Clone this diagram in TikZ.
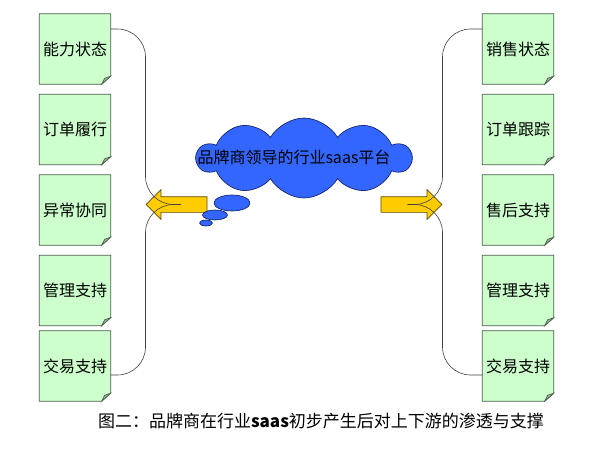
\documentclass[tikz,border=0pt]{standalone}
\usepackage{fontspec}
\setmainfont{Noto Sans CJK SC}
\usepackage{tikz}
\usetikzlibrary{arrows.meta,shapes.symbols,shapes.arrows,shapes.geometric}
\definecolor{notefill}{HTML}{CCFFCC}
\definecolor{noteedge}{HTML}{4A5E4A}
\definecolor{notefold}{HTML}{99B299}
\definecolor{arrowfill}{HTML}{FFCC00}
\definecolor{arrowedge}{HTML}{5C4A00}
\definecolor{cloudfill}{HTML}{3366FF}
\definecolor{cloudedge}{HTML}{0A1A5C}
\tikzset{%
    note/.style={minimum width=71pt, minimum height=70pt, inner sep=0pt,
        font=\fontsize{16}{19}\selectfont},
    fatarrow/.style={single arrow, fill=arrowfill, draw=arrowedge, line width=0.7pt,
        minimum height=61pt, inner xsep=0pt, inner ysep=7.5pt,
        single arrow head extend=7pt, single arrow tip angle=90},
    bubble/.style={ellipse, fill=cloudfill, draw=cloudedge, line width=0.6pt, inner sep=0pt},
    brace/.style={draw=black!75, line width=0.6pt, rounded corners=28pt}
}
\newcommand\NoteBox[4]{%
    \node[note] (#1) at (#2,#3) {#4};
    \fill[notefill] (#1.north west) -- (#1.north east) -- ([yshift=8pt]#1.south east)
        -- ([xshift=-9pt]#1.south east) -- (#1.south west) -- cycle;
    \draw[noteedge, line width=0.8pt] (#1.north west) -- (#1.north east) -- ([yshift=8pt]#1.south east)
        -- ([xshift=-9pt]#1.south east) -- (#1.south west) -- cycle;
    \filldraw[fill=notefold, draw=noteedge, line width=0.6pt] ([yshift=8pt]#1.south east)
        -- ([xshift=-9pt]#1.south east) -- ([xshift=-6pt,yshift=6pt]#1.south east) -- cycle;
    \node[note] at (#1) {#4}
}

\begin{document}
\begin{tikzpicture}[x=1pt, y=-1pt]
      \useasboundingbox[fill=white] (0,0) rectangle (603,452);

      \NoteBox{l1}{75}{49}{能力状态};
      \NoteBox{l2}{75}{129.5}{订单履行};
      \NoteBox{l3}{75}{210}{异常协同};
      \NoteBox{l4}{75}{290.5}{管理支持};
      \NoteBox{l5}{75}{366}{交易支持};

      \NoteBox{r1}{518}{49}{销售状态};
      \NoteBox{r2}{518}{129.5}{订单跟踪};
      \NoteBox{r3}{518}{210}{售后支持};
      \NoteBox{r4}{518}{290.5}{管理支持};
      \NoteBox{r5}{518}{366}{交易支持};

      \node[fatarrow, shape border rotate=180] (larrow) at (180.5,204.5) {};
      \node[fatarrow] (rarrow) at (407.5,204.5) {};

      \node[cloud, cloud puffs=10, cloud puff arc=120, cloud ignores aspect,
            fill=cloudfill, draw=cloudedge, line width=0.6pt,
            minimum width=214pt, minimum height=80pt, inner sep=0pt] (platform) at (304,158) {};
      \node[font=\fontsize{16}{19}\selectfont] (platformtext) at (294,157) {品牌商领导的行业saas平台};

      \node[bubble, minimum width=36pt, minimum height=16pt] (b1) at (232,203) {};
      \node[bubble, minimum width=25pt, minimum height=10pt] (b2) at (215,215) {};
      \node[bubble, minimum width=13pt, minimum height=6pt] (b3) at (206,223) {};

      \draw[brace] ([yshift=20pt]l1.east) -| ([xshift=-35pt]larrow.center) -- (larrow.center);
      \draw[brace] (larrow.center) -- ([xshift=-35pt]larrow.center) |- ([yshift=-9pt]l5.east);
      \draw[brace] ([yshift=20pt]r1.west) -| ([xshift=35pt]rarrow.center) -- (rarrow.center);
      \draw[brace] (rarrow.center) -- ([xshift=35pt]rarrow.center) |- ([yshift=-9pt]r5.west);

      \node[font=\fontsize{17}{20}\selectfont] (caption) at (321,421)
            {图二：品牌商在行业{\bfseries saas}初步产生后对上下游的渗透与支撑};
\end{tikzpicture}
\end{document}
